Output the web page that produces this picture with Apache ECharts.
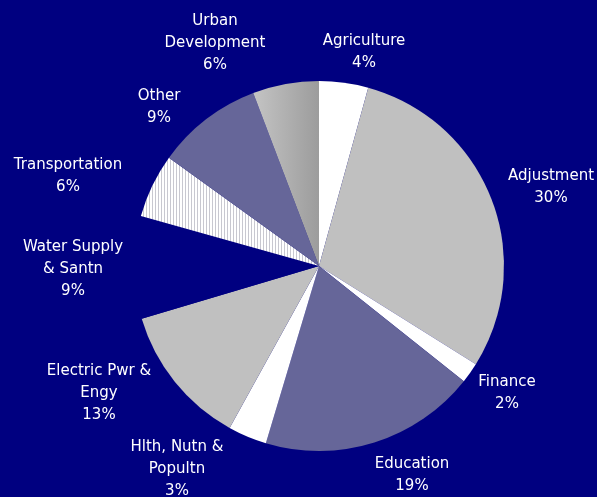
<!DOCTYPE html>
<html>
<head>
<meta charset="utf-8">
<script src="https://cdn.jsdelivr.net/npm/echarts@6/dist/echarts.min.js"></script>
<style>
  html, body { margin: 0; padding: 0; background: #000080; }
  #chart { width: 597px; height: 497px; }
</style>
</head>
<body>
<div id="chart"></div>
<script>
// sectors, clockwise from 12 o'clock
const names = ["Agriculture", "Adjustment", "Finance", "Education", "Hlth, Nutn &\nPopultn",
  "Electric Pwr &\nEngy", "Water Supply\n& Santn", "Transportation", "Other", "Urban\nDevelopment"];
const shares = [4.3, 29.7, 1.8, 19.0, 3.4, 12.4, 9.0, 5.6, 9.3, 5.8];
const pctLabels = ["4%", "30%", "2%", "19%", "3%", "13%", "9%", "6%", "9%", "6%"];

// label centres (layout only)
const labelPos = [[364, 52], [551, 187], [507, 393], [412, 475], [177, 469],
  [99, 393], [73, 269], [68, 176], [159, 107], [215, 43]];

// vertical stripe pattern for Transportation
const stripe = document.createElement("canvas");
stripe.width = 3; stripe.height = 4;
const sc = stripe.getContext("2d");
sc.fillStyle = "#ffffff"; sc.fillRect(0, 0, 3, 4);
sc.fillStyle = "#c8c8d0"; sc.fillRect(2, 0, 1, 4);

const fills = [
  "#ffffff", "#c0c0c0", "#ffffff", "#666699", "#ffffff", "#c0c0c0", "#000080",
  { image: stripe, repeat: "repeat" },
  "#666699",
  new echarts.graphic.LinearGradient(0, 0, 1, 0, [
    { offset: 0, color: "#c4c4c4" }, { offset: 1, color: "#9c9c9c" }
  ])
];

const chart = echarts.init(document.getElementById("chart"));
chart.setOption({
  backgroundColor: "#000080",
  animation: false,
  series: [{
    type: "pie",
    center: [319, 266],
    radius: 185,
    startAngle: 90,
    clockwise: true,
    silent: true,
    data: names.map((n, i) => ({
      name: n, value: shares[i],
      itemStyle: { color: fills[i] },
      label: { formatter: n + "\n" + pctLabels[i] }
    })),
    itemStyle: { borderWidth: 0 },
    label: {
      show: true,
      position: "outside",
      color: "#ffffff",
      fontFamily: "DejaVu Sans",
      fontSize: 15,
      lineHeight: 22,
      align: "center",
      overflow: "none"
    },
    labelLine: { show: false },
    labelLayout: function (p) {
      const pos = labelPos[p.dataIndex];
      return { x: pos[0], y: pos[1], align: "center", verticalAlign: "middle" };
    }
  }]
});
</script>
</body>
</html>
